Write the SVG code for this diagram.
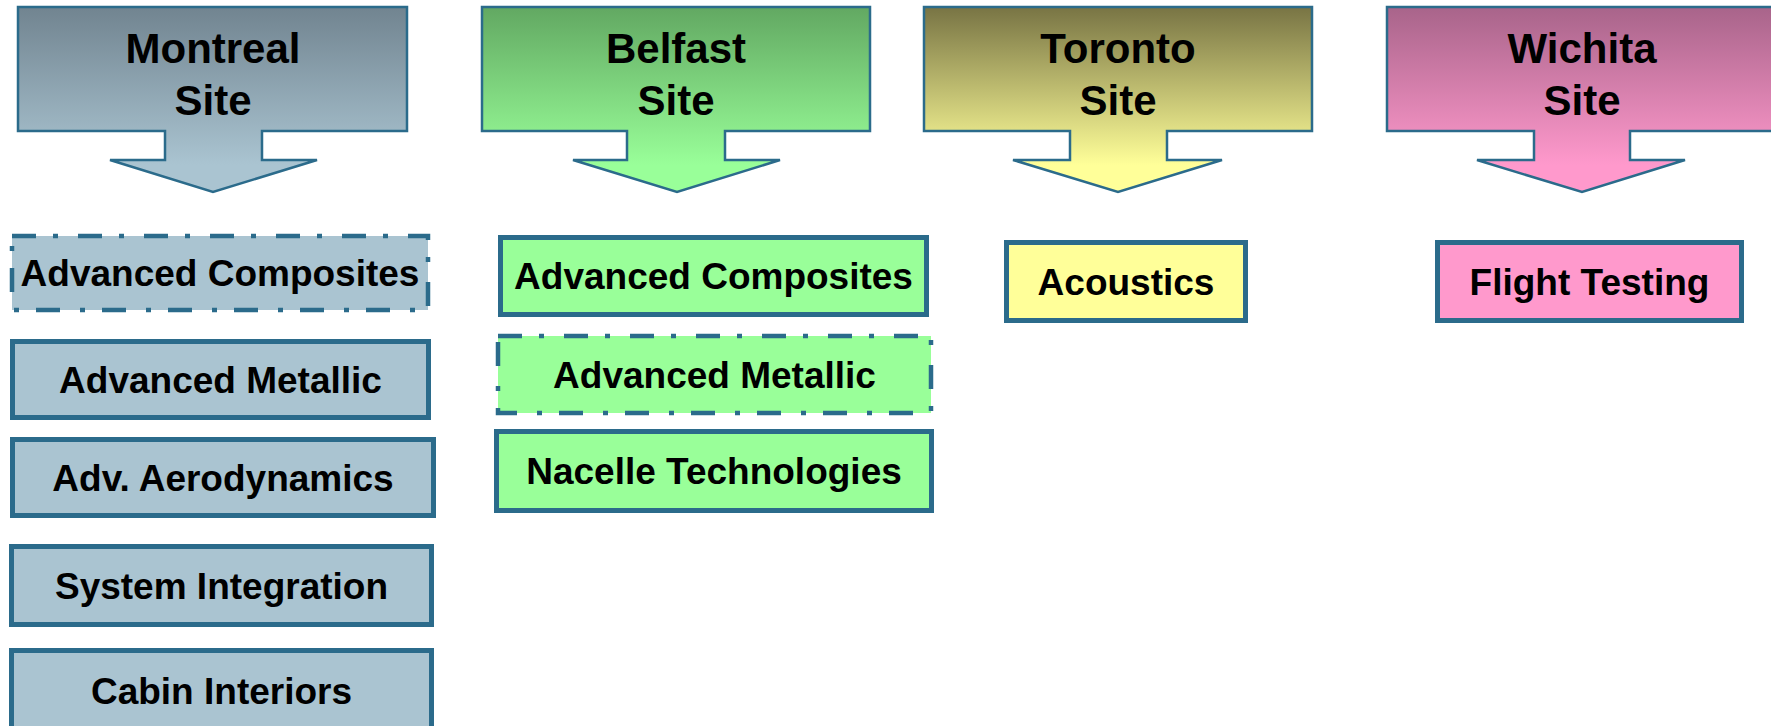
<svg xmlns="http://www.w3.org/2000/svg" width="1771" height="726" viewBox="0 0 1771 726">
<style>
.hdr{stroke:#2b6b8b;stroke-width:2.5;stroke-linejoin:miter}
.ht{font-family:"Liberation Sans",Arial,sans-serif;font-weight:bold;font-size:42px;fill:#000;text-anchor:middle}
.bx{stroke:#2b6b8b;stroke-width:5}
.dash{stroke:#2b6b8b;stroke-width:4.5;stroke-dasharray:24 17 5 20}
.bt{font-family:"Liberation Sans",Arial,sans-serif;font-weight:bold;font-size:37px;fill:#000;text-anchor:middle}
.mon{fill:#aac4d1}
.bel{fill:#99ff99}
.tor{fill:#ffff99}
.wic{fill:#ff99cc}
</style>
<defs>
<linearGradient id="gMon" gradientUnits="userSpaceOnUse" x1="0" y1="7" x2="0" y2="165">
<stop offset="0" stop-color="#718490"/><stop offset="1" stop-color="#aac4d1"/>
</linearGradient>
<linearGradient id="gBel" gradientUnits="userSpaceOnUse" x1="0" y1="7" x2="0" y2="165">
<stop offset="0" stop-color="#62a862"/><stop offset="1" stop-color="#99ff99"/>
</linearGradient>
<linearGradient id="gTor" gradientUnits="userSpaceOnUse" x1="0" y1="7" x2="0" y2="165">
<stop offset="0" stop-color="#787444"/><stop offset="1" stop-color="#ffff99"/>
</linearGradient>
<linearGradient id="gWic" gradientUnits="userSpaceOnUse" x1="0" y1="7" x2="0" y2="165">
<stop offset="0" stop-color="#a8648a"/><stop offset="1" stop-color="#ff99cc"/>
</linearGradient>
</defs>
<rect width="1771" height="726" fill="#ffffff"/>

<g id="montreal-site">
<path class="hdr" fill="url(#gMon)" d="M18,7 H407 V131 H262 V160 H317 L213,192 L110,160 H165 V131 H18 Z"/>
<text class="ht" x="213" y="63">Montreal</text>
<text class="ht" x="213" y="115">Site</text>
</g>
<g id="belfast-site">
<path class="hdr" fill="url(#gBel)" d="M482,7 H870 V131 H725 V160 H780 L677,192 L573,160 H627 V131 H482 Z"/>
<text class="ht" x="676" y="63">Belfast</text>
<text class="ht" x="676" y="115">Site</text>
</g>
<g id="toronto-site">
<path class="hdr" fill="url(#gTor)" d="M924,7 H1312 V131 H1167 V160 H1222 L1118,192 L1013,160 H1070 V131 H924 Z"/>
<text class="ht" x="1118" y="63">Toronto</text>
<text class="ht" x="1118" y="115">Site</text>
</g>
<g id="wichita-site">
<path class="hdr" fill="url(#gWic)" d="M1387,7 H1778 V131 H1630 V160 H1685 L1582,192 L1477,160 H1534 V131 H1387 Z"/>
<text class="ht" x="1582" y="63">Wichita</text>
<text class="ht" x="1582" y="115">Site</text>
</g>

<g id="mon-adv-composites">
<rect class="dash mon" x="12" y="236" width="416" height="74"/>
<text class="bt" x="220" y="286">Advanced Composites</text>
</g>
<g id="mon-adv-metallic">
<rect class="bx mon" x="12.5" y="341.5" width="416" height="76"/>
<text class="bt" x="220.5" y="393">Advanced Metallic</text>
</g>
<g id="mon-adv-aero">
<rect class="bx mon" x="12.5" y="439.5" width="421" height="76"/>
<text class="bt" x="223" y="491">Adv. Aerodynamics</text>
</g>
<g id="mon-system-integration">
<rect class="bx mon" x="11.5" y="546.5" width="420" height="78"/>
<text class="bt" x="221.5" y="599">System Integration</text>
</g>
<g id="mon-cabin-interiors">
<rect class="bx mon" x="11.5" y="650.5" width="420" height="90"/>
<text class="bt" x="221.5" y="704">Cabin Interiors</text>
</g>

<g id="bel-adv-composites">
<rect class="bx bel" x="500.5" y="237.5" width="426" height="77"/>
<text class="bt" x="713.5" y="289">Advanced Composites</text>
</g>
<g id="bel-adv-metallic">
<rect class="dash bel" x="498" y="336" width="433" height="77"/>
<text class="bt" x="714.5" y="388">Advanced Metallic</text>
</g>
<g id="bel-nacelle">
<rect class="bx bel" x="496.5" y="431.5" width="435" height="79"/>
<text class="bt" x="714" y="484">Nacelle Technologies</text>
</g>

<g id="tor-acoustics">
<rect class="bx tor" x="1006.5" y="242.5" width="239" height="78"/>
<text class="bt" x="1126" y="295">Acoustics</text>
</g>

<g id="wic-flight-testing">
<rect class="bx wic" x="1437.5" y="242.5" width="304" height="78"/>
<text class="bt" x="1589.5" y="295">Flight Testing</text>
</g>

<g id="connectors"></g>
</svg>
